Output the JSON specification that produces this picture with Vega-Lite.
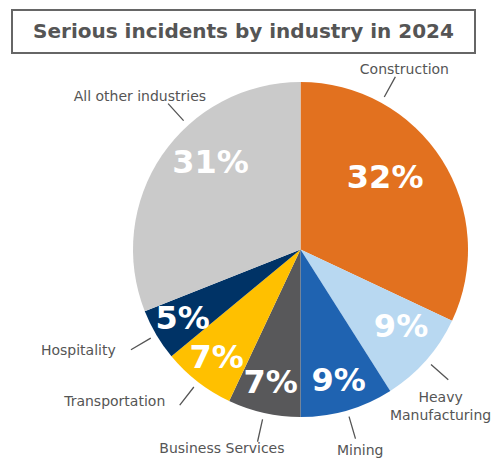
{
  "$schema": "https://vega.github.io/schema/vega-lite/v6.json",
  "padding": {"left": 11, "top": 9, "right": 0, "bottom": 0},
  "background": "white",
  "config": {"view": {"stroke": null}},
  "bounds": "flush",
  "spacing": 29,
  "vconcat": [
    {
      "width": 463,
      "height": 43,
      "view": {"stroke": "#666666", "strokeWidth": 2},
      "data": {"values": [{"title": "Serious incidents by industry in 2024"}]},
      "mark": {"type": "text", "font": "DejaVu Sans", "fontWeight": "bold", "fontSize": 20, "color": "#555555", "align": "center", "baseline": "middle"},
      "encoding": {"text": {"field": "title"}}
    },
    {
      "spacing": 0,
      "bounds": "flush",
      "hconcat": [
        {
          "width": 120.5,
          "height": 335,
          "data": {"values": []},
          "mark": "point",
          "encoding": {}
        },
        {
          "width": 335,
          "height": 335,
          "data": {"values": [
            {"industry": "Construction", "label": "Construction", "share": 0.32, "rank": 1},
            {"industry": "Heavy Manufacturing", "label": "Heavy\nManufacturing", "share": 0.09, "rank": 2},
            {"industry": "Mining", "label": "Mining", "share": 0.09, "rank": 3},
            {"industry": "Business Services", "label": "Business Services", "share": 0.07, "rank": 4},
            {"industry": "Transportation", "label": "Transportation", "share": 0.07, "rank": 5},
            {"industry": "Hospitality", "label": "Hospitality", "share": 0.05, "rank": 6},
            {"industry": "All other industries", "label": "All other industries", "share": 0.31, "rank": 7}
          ]},
          "encoding": {
            "theta": {"field": "share", "type": "quantitative", "stack": true},
            "order": {"field": "rank", "type": "quantitative"},
            "detail": {"field": "industry", "type": "nominal"}
          },
          "layer": [
            {
              "mark": {"type": "arc"},
              "encoding": {
                "color": {
                  "field": "industry", "type": "nominal", "legend": null,
                  "scale": {
                    "domain": ["Construction", "Heavy Manufacturing", "Mining", "Business Services", "Transportation", "Hospitality", "All other industries"],
                    "range": ["#E2711F", "#B8D8F1", "#1F63B1", "#58585A", "#FFC000", "#003366", "#CACACA"]
                  }
                }
              }
            },
            {
              "mark": {"type": "text", "font": "DejaVu Sans", "fontWeight": "bold", "fontSize": 32, "color": "white", "baseline": "middle", "align": "center", "radius": 137},
              "encoding": {
                "text": {"condition": {"test": "datum.industry === 'Mining' || datum.industry === 'Business Services' || datum.industry === 'Transportation' || datum.industry === 'Hospitality'", "field": "share", "type": "quantitative", "format": ".0%"}, "value": ""}
              }
            },
            {
              "mark": {"type": "text", "font": "DejaVu Sans", "fontWeight": "bold", "fontSize": 32, "color": "white", "baseline": "middle", "align": "center", "radius": 127, "thetaOffset": -0.065},
              "encoding": {
                "text": {"condition": {"test": "datum.industry === 'Heavy Manufacturing'", "field": "share", "type": "quantitative", "format": ".0%"}, "value": ""}
              }
            },
            {
              "mark": {"type": "text", "font": "DejaVu Sans", "fontWeight": "bold", "fontSize": 32, "color": "white", "baseline": "middle", "align": "center", "radius": 111, "thetaOffset": -0.138},
              "encoding": {
                "text": {"condition": {"test": "datum.industry === 'Construction'", "field": "share", "type": "quantitative", "format": ".0%"}, "value": ""}
              }
            },
            {
              "mark": {"type": "text", "font": "DejaVu Sans", "fontWeight": "bold", "fontSize": 32, "color": "white", "baseline": "middle", "align": "center", "radius": 125, "thetaOffset": 0.171},
              "encoding": {
                "text": {"condition": {"test": "datum.industry === 'All other industries'", "field": "share", "type": "quantitative", "format": ".0%"}, "value": ""}
              }
            },
            {
              "mark": {"type": "arc", "radius": 197, "radius2": 174, "padAngle": 3, "fill": "transparent", "stroke": "#555555", "strokeWidth": 1.3},
              "encoding": {
                "strokeOpacity": {"condition": {"test": "datum.industry !== 'Construction' && datum.industry !== 'All other industries'", "value": 1}, "value": 0}
              }
            },
            {
              "mark": {"type": "arc", "radius": 197, "radius2": 174, "padAngle": 3, "fill": "transparent", "stroke": "#555555", "strokeWidth": 1.3, "thetaOffset": -0.503, "theta2Offset": -0.503},
              "encoding": {
                "strokeOpacity": {"condition": {"test": "datum.industry === 'Construction'", "value": 1}, "value": 0}
              }
            },
            {
              "mark": {"type": "arc", "radius": 197, "radius2": 174, "padAngle": 3, "fill": "transparent", "stroke": "#555555", "strokeWidth": 1.3, "thetaOffset": 0.237, "theta2Offset": 0.237},
              "encoding": {
                "strokeOpacity": {"condition": {"test": "datum.industry === 'All other industries'", "value": 1}, "value": 0}
              }
            },
            {
              "mark": {"type": "text", "font": "DejaVu Sans", "fontSize": 14, "color": "#555555", "align": "center", "baseline": "alphabetic", "lineBreak": "\n", "lineHeight": 18.3, "radius": 207, "thetaOffset": 0.105},
              "encoding": {
                "text": {"condition": {"test": "datum.industry === 'Heavy Manufacturing'", "field": "label"}, "value": ""}
              }
            },
            {
              "mark": {"type": "text", "font": "DejaVu Sans", "fontSize": 14, "color": "#555555", "align": "center", "baseline": "alphabetic", "radius": 218.5, "thetaOffset": 0.148},
              "encoding": {
                "text": {"condition": {"test": "datum.industry === 'Business Services' || datum.industry === 'All other industries'", "field": "label"}, "value": ""}
              }
            },
            {
              "mark": {"type": "text", "font": "DejaVu Sans", "fontSize": 14, "color": "#555555", "align": "center", "baseline": "alphabetic", "radius": 214},
              "encoding": {
                "text": {"condition": {"test": "datum.industry === 'Mining'", "field": "label"}, "value": ""}
              }
            },
            {
              "mark": {"type": "text", "font": "DejaVu Sans", "fontSize": 14, "color": "#555555", "align": "right", "baseline": "middle", "radius": 211, "thetaOffset": 0.03},
              "encoding": {
                "text": {"condition": {"test": "datum.industry === 'Hospitality'", "field": "label"}, "value": ""}
              }
            },
            {
              "mark": {"type": "text", "font": "DejaVu Sans", "fontSize": 14, "color": "#555555", "align": "right", "baseline": "middle", "radius": 204, "thetaOffset": 0.065},
              "encoding": {
                "text": {"condition": {"test": "datum.industry === 'Transportation'", "field": "label"}, "value": ""}
              }
            },
            {
              "mark": {"type": "text", "font": "DejaVu Sans", "fontSize": 14, "color": "#555555", "align": "center", "baseline": "alphabetic", "radius": 204, "thetaOffset": -0.471},
              "encoding": {
                "text": {"condition": {"test": "datum.industry === 'Construction'", "field": "label"}, "value": ""}
              }
            }
          ]
        }
      ]
    }
  ]
}
